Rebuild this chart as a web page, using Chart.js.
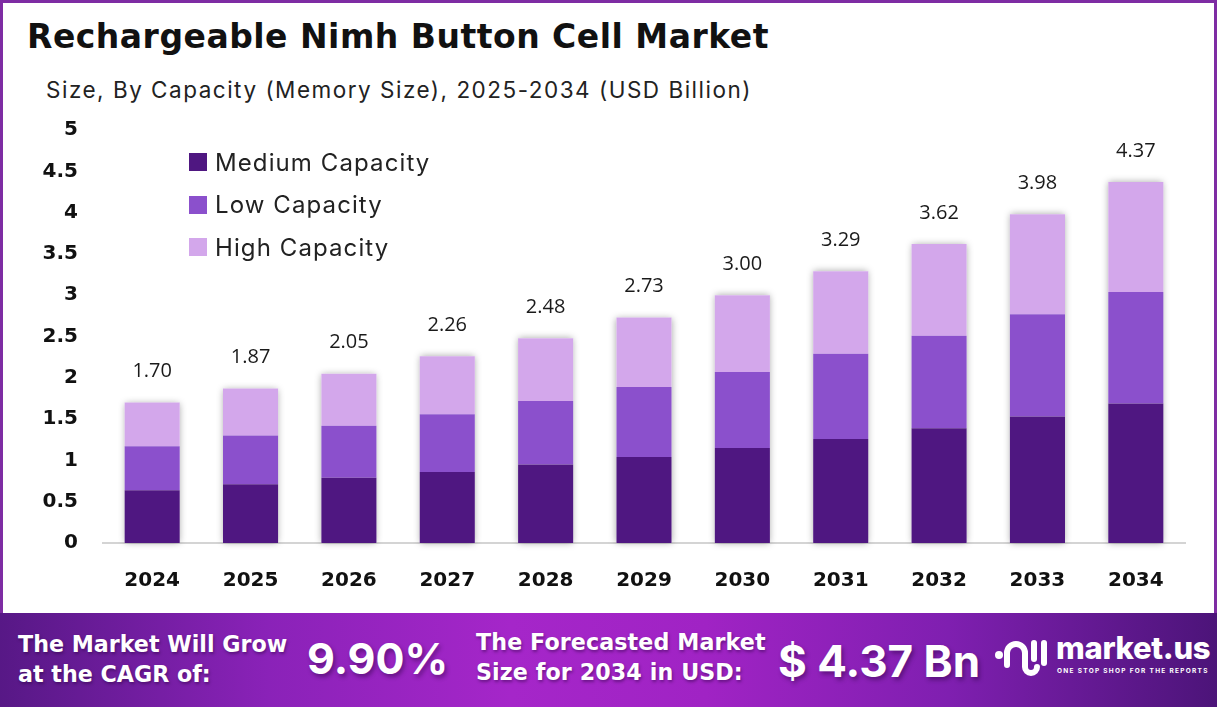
<!DOCTYPE html>
<html>
<head>
<meta charset="utf-8">
<script src="https://cdn.jsdelivr.net/npm/chart.js@4.4.1/dist/chart.umd.min.js"></script>
<style>
  html, body { margin: 0; padding: 0; }
  body { width: 1217px; height: 707px; position: relative; overflow: hidden; background: #fff; font-family: "Inter", "Noto Sans", sans-serif; }
  .frame { position: absolute; left: 0; top: 0; width: 1217px; height: 613px; box-sizing: border-box; border: 3px solid #7e2ca3; border-bottom: none; }
  .title { position: absolute; left: 27px; top: 17px; font-family: "DejaVu Sans", sans-serif; font-size: 33px; font-weight: 700; color: #111; letter-spacing: 0.5px; white-space: nowrap; }
  .subtitle { position: absolute; left: 46px; top: 76px; font-size: 22.5px; color: #222; letter-spacing: 1.5px; white-space: nowrap; }
  .chart-box { position: absolute; left: 3px; top: 0; width: 1210px; height: 610px; }
  .legend { position: absolute; left: 189px; top: 141px; }
  .legend div { height: 42.5px; display: flex; align-items: center; font-size: 24px; color: #222; letter-spacing: 1.1px; white-space: nowrap; }
  .legend span { display: inline-block; width: 18px; height: 18px; margin-right: 8px; }
  .banner { position: absolute; left: 0; top: 613px; width: 1217px; height: 94px;
    background: linear-gradient(90deg, #571886 0%, #8a22b8 22%, #a526c9 42%, #a023c4 58%, #7f1fb0 78%, #4c1479 100%); color: #fff; }
  .banner .t { position: absolute; font-family: "DejaVu Sans", sans-serif; font-weight: 700; font-size: 22.2px; line-height: 30px; letter-spacing: 0; white-space: nowrap; text-shadow: 1px 2px 3px rgba(40,0,60,0.45); }
  .banner .big { position: absolute; font-weight: 700; font-size: 43px; white-space: nowrap; text-shadow: 2px 3px 4px rgba(40,0,60,0.45); }
  .logo { position: absolute; left: 994px; top: 20px; }
  .logo .name { position: absolute; left: 62px; top: -4px; font-size: 31px; font-weight: 800; letter-spacing: -0.3px; }
  .logo .tag { position: absolute; left: 63px; top: 34px; font-size: 6.5px; font-weight: 700; letter-spacing: 1.3px; white-space: nowrap; }
</style>
</head>
<body>
<div class="frame"></div>
<div class="title">Rechargeable Nimh Button Cell Market</div>
<div class="subtitle">Size, By Capacity (Memory Size), 2025-2034 (USD Billion)</div>
<div class="chart-box"><canvas id="market"></canvas></div>
<div class="legend" id="legend"></div>
<div class="banner">
  <div class="t" style="left:18px; top:16px;">The Market Will Grow<br>at the CAGR of:</div>
  <div class="big" style="left:307px; top:19px;">9.90%</div>
  <div class="t" style="left:476px; top:14px; letter-spacing:0.1px;">The Forecasted Market<br>Size for 2034 in USD:</div>
  <div class="big" style="left:778px; top:21px; font-size:44px;">$ 4.37 Bn</div>
  <div class="logo">
    <svg width="56" height="50" viewBox="0 0 56 50">
      <circle cx="5" cy="22" r="4" fill="#fff"/>
      <path d="M13 32 V20 a9 9 0 0 1 18 0 V34 a6 6 0 0 0 12 0" stroke="#fff" stroke-width="6" fill="none" stroke-linecap="round"/>
      <line x1="40" y1="10" x2="40" y2="26" stroke="#fff" stroke-width="6" stroke-linecap="round"/>
      <line x1="50" y1="10" x2="50" y2="30" stroke="#fff" stroke-width="6" stroke-linecap="round"/>
    </svg>
    <div class="name">market.us</div>
    <div class="tag">ONE STOP SHOP FOR THE REPORTS</div>
  </div>
</div>
<script>
var years = ["2024", "2025", "2026", "2027", "2028", "2029", "2030", "2031", "2032", "2033", "2034"];
var mediumCapacity = [0.64, 0.71, 0.79, 0.86, 0.95, 1.04, 1.15, 1.26, 1.39, 1.53, 1.69];
var lowCapacity = [0.53, 0.59, 0.63, 0.70, 0.77, 0.85, 0.92, 1.03, 1.12, 1.24, 1.35];
var highCapacity = [0.53, 0.57, 0.63, 0.70, 0.76, 0.84, 0.93, 1.00, 1.11, 1.21, 1.33];
var totals = ["1.70", "1.87", "2.05", "2.26", "2.48", "2.73", "3.00", "3.29", "3.62", "3.98", "4.37"];
var yTicks = [0, 0.5, 1, 1.5, 2, 2.5, 3, 3.5, 4, 4.5, 5];

var colors = ["#4f1781", "#8b50cc", "#d3a7eb"];
var names = ["Medium Capacity", "Low Capacity", "High Capacity"];
var tickFont = { family: '"DejaVu Sans", sans-serif', size: 20, weight: 'bold' };

// legend drawn as html
var legend = document.getElementById('legend');
names.forEach(function (n, i) {
    var row = document.createElement('div');
    row.innerHTML = '<span style="background:' + colors[i] + '"></span>' + n;
    legend.appendChild(row);
});

// soft shadow behind each whole stack
var stackShadow = {
    id: 'stackShadow',
    beforeDatasetsDraw: function (chart) {
        var ctx = chart.ctx;
        var top = chart.getDatasetMeta(2).data;
        var bottom = chart.getDatasetMeta(0).data;
        ctx.save();
        ctx.shadowColor = "rgba(0,0,0,0.35)";
        ctx.shadowBlur = 7;
        ctx.fillStyle = "#fff";
        top.forEach(function (bar, i) {
            var w = bar.width;
            ctx.fillRect(bar.x - w / 2, bar.y, w, bottom[i].base - bar.y);
        });
        ctx.restore();
    }
};

// total value above each stack
var totalLabels = {
    id: 'totalLabels',
    afterDatasetsDraw: function (chart) {
        var ctx = chart.ctx;
        var top = chart.getDatasetMeta(2).data;
        ctx.save();
        ctx.font = '400 20px "Open Sans", "Noto Sans", sans-serif';
        ctx.fillStyle = "#1a1a1a";
        ctx.textAlign = "center";
        ctx.textBaseline = "middle";
        top.forEach(function (bar, i) {
            ctx.fillText(totals[i], bar.x, bar.y - 31);
        });
        ctx.restore();
    }
};

var data = {
    labels: years,
    datasets: [
        { label: names[0], data: mediumCapacity, backgroundColor: colors[0] },
        { label: names[1], data: lowCapacity, backgroundColor: colors[1] },
        { label: names[2], data: highCapacity, backgroundColor: colors[2] }
    ]
};

var options = {
    responsive: true,
    maintainAspectRatio: false,
    animation: false,
    layout: { padding: { top: 130, left: 0, right: 28, bottom: 17 } },
    datasets: { bar: { barPercentage: 0.56, categoryPercentage: 1, borderWidth: 0 } },
    scales: {
        x: {
            stacked: true,
            afterFit: function (scale) { scale.height = 50; },
            grid: { display: false, drawTicks: false },
            border: { display: true, color: "#d4d4d4", width: 2 },
            ticks: { padding: 26, color: "#111", font: tickFont, maxRotation: 0 }
        },
        y: {
            stacked: true,
            min: 0,
            max: 5,
            afterFit: function (scale) { scale.width = 100; },
            afterBuildTicks: function (scale) {
                scale.ticks = yTicks.map(function (v) { return { value: v }; });
            },
            grid: { display: false, drawTicks: false },
            border: { display: false },
            ticks: {
                padding: 25,
                color: "#111",
                font: tickFont,
                callback: function (v) { return String(v); }
            }
        }
    },
    plugins: {
        legend: { display: false },
        tooltip: { enabled: false }
    }
};

new Chart('market', {
    type: 'bar',
    data: data,
    options: options,
    plugins: [stackShadow, totalLabels]
});
</script>
</body>
</html>
